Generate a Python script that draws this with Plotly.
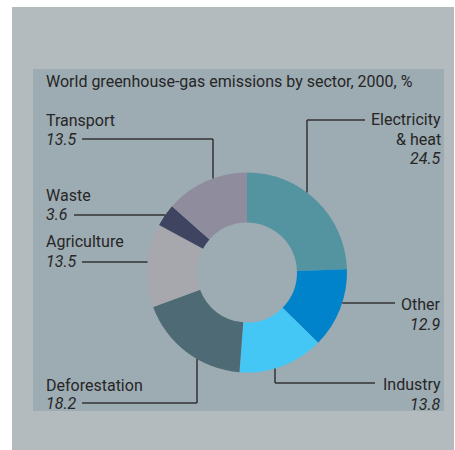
import math
import plotly.graph_objects as go

# ---- data ----
sectors = ["Electricity & heat", "Other", "Industry", "Deforestation",
           "Agriculture", "Waste", "Transport"]
shares = [24.5, 12.9, 13.8, 18.2, 13.5, 3.6, 13.5]
slice_colors = ["#5494a0", "#0083cb", "#45c7f5", "#4e6b75",
                "#a6a8ad", "#3f4561", "#8e8c9d"]
title_text = "World greenhouse-gas emissions by sector, 2000, %"

W, H = 455, 450
FONT = "Roboto, Liberation Sans, Arial, sans-serif"
TXT = "#262626"
LINE = "#333333"

# donut geometry (pixels, y from top)
cx, cy, R = 247, 272.5, 100


def px(x):
    return x / W


def py(y):
    return 1 - y / H


fig = go.Figure()
fig.add_trace(go.Pie(
    labels=sectors, values=shares, sort=False, direction="clockwise",
    rotation=0, hole=0.5, textinfo="none", hoverinfo="label+value",
    marker=dict(colors=slice_colors, line=dict(width=0)),
    domain=dict(x=[px(cx - R), px(cx + R)], y=[py(cy + R), py(cy - R)]),
    showlegend=False,
))

shapes = [
    dict(type="rect", xref="paper", yref="paper", x0=px(12), x1=px(454),
         y0=py(450), y1=py(7), fillcolor="#b4bbbe", line=dict(width=0),
         layer="below"),
    dict(type="rect", xref="paper", yref="paper", x0=px(33), x1=px(444),
         y0=py(411), y1=py(69), fillcolor="#9dabb2", line=dict(width=0),
         layer="below"),
]


def seg(x0, y0, x1, y1):
    shapes.append(dict(type="line", xref="paper", yref="paper",
                       x0=px(x0), y0=py(y0), x1=px(x1), y1=py(y1),
                       line=dict(color=LINE, width=1.5)))


def edge_x(y, side):
    return cx + side * math.sqrt(R * R - (y - cy) ** 2)


def edge_y(x, side):
    return cy + side * math.sqrt(R * R - (x - cx) ** 2)


# leader lines
seg(82, 139, 213, 139); seg(213, 139, 213, edge_y(213, -1))      # Transport
seg(74, 215, edge_x(215, -1), 215)                                # Waste
seg(82, 262, edge_x(262, -1), 262)                                # Agriculture
seg(82, 403, 197, 403); seg(197, 403, 197, edge_y(197, 1))       # Deforestation
seg(375, 383, 275, 383); seg(275, 383, 275, edge_y(275, 1))      # Industry
seg(edge_x(303, 1), 303, 395, 303)                                # Other
seg(365, 120, 307, 120); seg(307, 120, 307, edge_y(307, -1))     # Electricity

annotations = []


def txt(s, x, baseline, anchor="left", italic=False, size=16):
    annotations.append(dict(
        text=("<i>%s</i>" % s) if italic else s,
        x=px(x), y=py(baseline - 5.5), xref="paper", yref="paper",
        xanchor=anchor, yanchor="middle", showarrow=False,
        font=dict(family=FONT, size=size, color=TXT)))


txt(title_text, 44, 87, size=16)

vals = dict(zip(sectors, shares))
txt("Transport", 44, 126); txt("%.1f" % vals["Transport"], 44, 145, italic=True)
txt("Waste", 44, 201); txt("%.1f" % vals["Waste"], 44, 220, italic=True)
txt("Agriculture", 44, 247); txt("%.1f" % vals["Agriculture"], 44, 267, italic=True)
txt("Deforestation", 44, 391); txt("%.1f" % vals["Deforestation"], 44, 409, italic=True)
txt("Electricity", 443, 125, "right"); txt("& heat", 443, 145, "right")
txt("%.1f" % vals["Electricity & heat"], 443, 164, "right", italic=True)
txt("Other", 443, 310, "right"); txt("%.1f" % vals["Other"], 443, 330, "right", italic=True)
txt("Industry", 443, 390, "right"); txt("%.1f" % vals["Industry"], 443, 410, "right", italic=True)

fig.update_layout(
    width=W, height=H, margin=dict(l=0, r=0, t=0, b=0),
    paper_bgcolor="white", plot_bgcolor="white",
    shapes=shapes, annotations=annotations,
)
fig.write_html("out.html", config={"displayModeBar": False},
               post_script="document.body.style.margin='0';"
                           "document.body.style.padding='0';")
